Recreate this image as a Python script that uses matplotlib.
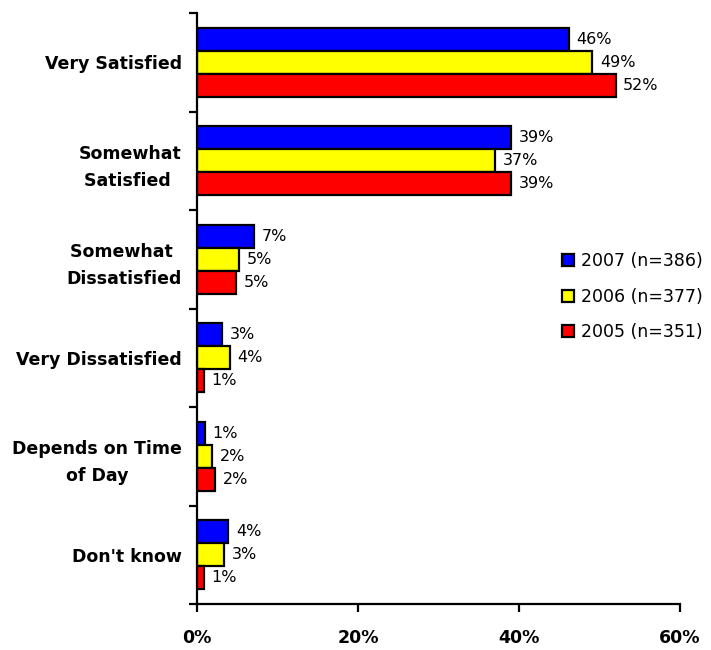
import numpy as np
import matplotlib
matplotlib.use('Agg')
import matplotlib.pyplot as plt

# data (percent)
categories = ["Very Satisfied", "Somewhat\nSatisfied ", "Somewhat \nDissatisfied",
              "Very Dissatisfied", "Depends on Time\nof Day", "Don't know"]
series_names = ["2007 (n=386)", "2006 (n=377)", "2005 (n=351)"]
vals_2007 = [46.2, 39.0, 7.05, 3.1, 0.96, 3.9]
vals_2006 = [49.1, 37.0, 5.25, 4.1, 1.9, 3.35]
vals_2005 = [52.0, 39.0, 4.8, 0.85, 2.25, 0.87]
colors = ["#0000FF", "#FFFF00", "#FF0000"]

plt.rcParams['font.family'] = ['DejaVu Sans']

fig = plt.figure(figsize=(7.11, 6.5), dpi=100)
ax = fig.add_axes([197/711, 1-604/650, 483/711, 591/650])

y = np.arange(len(categories))
h = 0.235
all_vals = [vals_2007, vals_2006, vals_2005]
for k, (vals, c, name) in enumerate(zip(all_vals, colors, series_names)):
    pos = y + (k - 1) * h
    ax.barh(pos, vals, height=h, color=c, edgecolor='black', linewidth=1.6, label=name)
    for p, v in zip(pos, vals):
        ax.annotate(f"{round(v):.0f}%", (v, p), xytext=(5.5, 0), textcoords='offset points',
                    va='center', ha='left', fontsize=11.5)

ax.set_xlim(0, 60)
ax.set_ylim(len(categories) - 0.5, -0.5)
ax.set_xticks([0, 20, 40, 60])
ax.set_xticklabels(["0%", "20%", "40%", "60%"], fontsize=12.5, fontweight='bold')
ax.set_yticks(np.arange(len(categories) + 1) - 0.5)
ax.set_yticklabels([])
ax.set_yticks(y, minor=True)
ax.set_yticklabels(categories, minor=True, fontsize=12.5, fontweight='bold', ha='right',
                   multialignment='center', linespacing=1.65)
ax.tick_params(axis='y', which='minor', length=0, pad=11)
ax.tick_params(axis='y', which='major', length=6, width=1.6, direction='out')
ax.tick_params(axis='x', length=6, width=1.6, direction='out', pad=12)
for s in ['top', 'right']:
    ax.spines[s].set_visible(False)
for s in ['left', 'bottom']:
    ax.spines[s].set_linewidth(1.6)

ax.legend(loc='center left', bbox_to_anchor=(0.755, 0.52), frameon=False, fontsize=12.5,
          handlelength=0.7, handleheight=0.7, handletextpad=0.4, labelspacing=1.0,
          borderaxespad=0, borderpad=0)

fig.savefig("out.png", dpi=100)
